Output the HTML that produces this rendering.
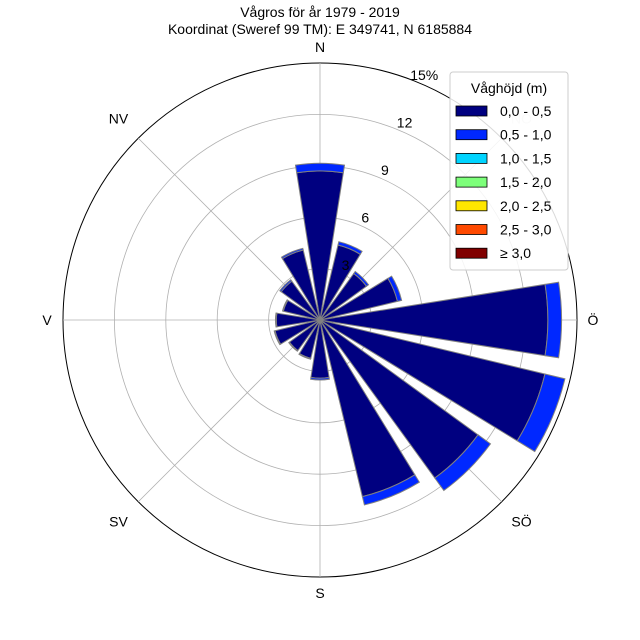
<!DOCTYPE html>
<html><head><meta charset="utf-8"><style>
body{margin:0;background:#fff}
svg{display:block;font-family:"Liberation Sans",sans-serif}
</style></head><body>
<svg id="chart" width="640" height="640" viewBox="0 0 640 640">
<rect width="640" height="640" fill="#fff"/>
<text x="320" y="17" text-anchor="middle" font-size="14">Vågros för år 1979 - 2019</text>
<text x="320" y="34" text-anchor="middle" font-size="14">Koordinat (Sweref 99 TM): E 349741, N 6185884</text>
<g id="grid"></g>
<g id="bars"></g>
<g id="labels"></g>
<g id="legend"></g>
</svg>
<script>
const directions = ["N","NNÖ","NÖ","ÖNÖ","Ö","ÖSÖ","SÖ","SSÖ","S","SSV","SV","VSV","V","VNV","NV","NNV"];
const band1 = [8.7,4.5,3.35,4.65,13.3,13.5,11.4,10.6,3.4,2.3,2.2,2.7,2.55,2.2,2.8,4.2];
const band2 = [0.45,0.2,0.15,0.25,0.8,1.2,0.9,0.5,0.1,0.05,0.05,0.05,0.05,0.05,0.1,0.1];
const ringTicks = [3,6,9,12,15];
const ringLabels = ["3","6","9","12","15%"];
const compassLabels = ["N","NÖ","Ö","SÖ","S","SV","V","NV"];
const legendLabels = ["0,0 - 0,5","0,5 - 1,0","1,0 - 1,5","1,5 - 2,0","2,0 - 2,5","2,5 - 3,0","≥ 3,0"];
const legendColors = ["#000080","#0028ff","#00d4ff","#7dff7a","#ffe600","#ff4a00","#800000"];

const NS="http://www.w3.org/2000/svg";
const cx=320, cy=320, R=257, maxV=15;
const rs = v => v/maxV*R;
const pt = (deg,r)=>[cx+r*Math.sin(deg*Math.PI/180), cy-r*Math.cos(deg*Math.PI/180)];
function mk(tag,parent){const e=document.createElementNS(NS,tag);parent.appendChild(e);return e;}
const grid=document.getElementById('grid'), bars=document.getElementById('bars'), labels=document.getElementById('labels'), legend=document.getElementById('legend');

ringTicks.forEach((t,i)=>{
  const c=mk('circle',grid);
  
  
  c.setAttribute('cx',cx);c.setAttribute('cy',cy);c.setAttribute('r',rs(t));
  c.setAttribute('fill','none');
  c.setAttribute('stroke', i===ringTicks.length-1?'#000':'#b0b0b0');
  c.setAttribute('stroke-width', i===ringTicks.length-1?1:0.8);
});
for(let k=0;k<8;k++){
  const [x,y]=pt(k*45,R);
  const l=mk('line',grid);
  
  
  l.setAttribute('x1',cx);l.setAttribute('y1',cy);l.setAttribute('x2',x);l.setAttribute('y2',y);
  l.setAttribute('stroke','#b0b0b0');l.setAttribute('stroke-width',0.8);
}
function wedge(a,r0,r1,col,name){
  const w=9;
  const [x1,y1]=pt(a-w,r0),[x2,y2]=pt(a-w,r1),[x3,y3]=pt(a+w,r1),[x4,y4]=pt(a+w,r0);
  const p=mk('path',bars);
  
  
  p.setAttribute('d',`M${x1},${y1}L${x2},${y2}A${r1},${r1} 0 0 1 ${x3},${y3}L${x4},${y4}`+(r0>0?`A${r0},${r0} 0 0 0 ${x1},${y1}`:'')+'Z');
  p.setAttribute('fill',col);p.setAttribute('stroke','#808080');p.setAttribute('stroke-width',1);
}
directions.forEach((d,i)=>{
  const a=i*22.5;
  wedge(a,0,rs(band1[i]),legendColors[0],'bar-'+d.toLowerCase()+'-band1');
  wedge(a,rs(band1[i]),rs(band1[i]+band2[i]),legendColors[1],'bar-'+d.toLowerCase()+'-band2');
});
ringTicks.forEach((t,i)=>{
  const [x,y]=pt(22.5,rs(t)+5);
  const tx=mk('text',labels);
  
  
  tx.setAttribute('x',x+4);tx.setAttribute('y',y+2);tx.setAttribute('font-size',14);
  tx.setAttribute('text-anchor','middle');
  tx.textContent=ringLabels[i];
});
compassLabels.forEach((c,k)=>{
  const [x,y]=pt(k*45,R+16+(k%2?12:0));
  const tx=mk('text',labels);
  
  
  tx.setAttribute('x',x);tx.setAttribute('y',y+5);tx.setAttribute('font-size',14);
  tx.setAttribute('text-anchor','middle');
  if(c==='NÖ') tx.setAttribute('fill','#ddd');
  tx.textContent=c;
});
const box=mk('rect',legend);


box.setAttribute('x',450);box.setAttribute('y',72);box.setAttribute('width',118);box.setAttribute('height',198);box.setAttribute('rx',3);
box.setAttribute('fill','rgba(255,255,255,0.85)');box.setAttribute('stroke','#ccc');
const lt=mk('text',legend);


lt.setAttribute('x',509);lt.setAttribute('y',93);lt.setAttribute('text-anchor','middle');lt.setAttribute('font-size',14);
lt.textContent='Våghöjd (m)';
legendLabels.forEach((l,i)=>{
  const y=106+i*23.7;
  const r=mk('rect',legend);
  
  
  r.setAttribute('x',456);r.setAttribute('y',y);r.setAttribute('width',31);r.setAttribute('height',10);
  r.setAttribute('fill',legendColors[i]);r.setAttribute('stroke','#000');r.setAttribute('stroke-width',0.8);
  const t=mk('text',legend);
  
  
  t.setAttribute('x',500);t.setAttribute('y',y+10);t.setAttribute('font-size',14);
  t.textContent=l;
});
</script>
</body></html>
